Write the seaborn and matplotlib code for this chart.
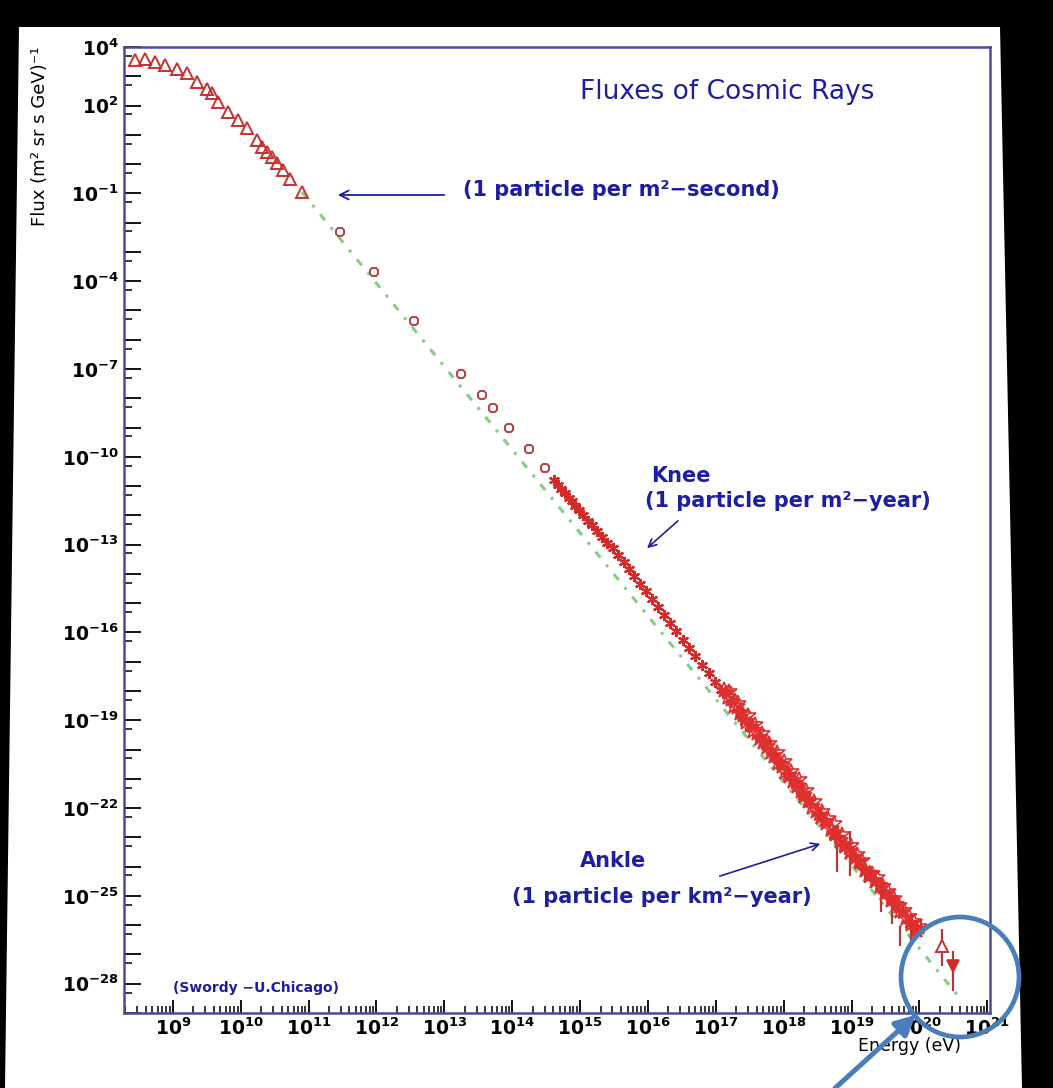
import numpy as np
import pandas as pd
import matplotlib
matplotlib.use("Agg")
import matplotlib.pyplot as plt
import seaborn as sns
from matplotlib.ticker import FixedLocator, FixedFormatter, NullFormatter
from matplotlib.patches import Polygon, Ellipse, FancyArrowPatch

# ---------------- data (log10 values) ----------------
tri_logE = [8.44, 8.59, 8.73, 8.88, 9.06, 9.21, 9.35, 9.50, 9.58, 9.66, 9.81,
            9.96, 10.09, 10.24, 10.31, 10.39, 10.46, 10.53, 10.62, 10.73, 10.90]
tri_logF = [3.56, 3.59, 3.49, 3.39, 3.25, 3.11, 2.81, 2.57, 2.43, 2.12, 1.78,
            1.51, 1.24, 0.83, 0.59, 0.42, 0.25, 0.04, -0.20, -0.51, -0.95]

diam_logE = [11.46, 11.96, 12.55, 13.25, 13.56, 13.71, 13.96, 14.25, 14.49]
diam_logF = [-2.31, -3.68, -5.35, -7.16, -7.88, -8.32, -9.00, -9.72, -10.37]

knee_logE = [14.62, 14.68, 14.72, 14.78, 14.83, 14.88, 14.93, 14.99, 15.05, 15.12,
             15.18, 15.25, 15.33, 15.40, 15.48, 15.56, 15.64, 15.72, 15.80, 15.89,
             15.97, 16.06, 16.15, 16.24, 16.33, 16.42, 16.52, 16.61, 16.70, 16.80,
             16.90, 16.99, 17.08]
knee_logF = [-10.80, -10.95, -11.10, -11.22, -11.40, -11.50, -11.68, -11.82, -11.98, -12.18,
             -12.33, -12.52, -12.75, -12.93, -13.12, -13.35, -13.58, -13.82, -14.08, -14.33,
             -14.60, -14.85, -15.13, -15.42, -15.68, -15.95, -16.26, -16.52, -16.80, -17.12,
             -17.40, -17.70, -17.98]

open_logE = [17.12, 17.18, 17.22, 17.27, 17.31, 17.36, 17.40, 17.45, 17.50, 17.55,
             17.60, 17.65, 17.70, 17.76, 17.81, 17.86, 17.92, 17.97, 18.02, 18.08,
             18.13, 18.19, 18.25, 18.30, 18.36, 18.42, 18.48, 18.55, 18.62, 18.69,
             18.76, 18.83, 18.90, 18.97, 19.05, 19.12, 19.20, 19.27, 19.35, 19.42,
             19.50, 19.58, 19.65, 19.72, 19.80, 19.88, 19.97]
open_logF = [-17.95, -18.20, -18.28, -18.50, -18.55, -18.75, -18.82, -19.05, -19.15, -19.35,
             -19.42, -19.62, -19.75, -19.90, -20.10, -20.22, -20.45, -20.55, -20.75, -20.90,
             -21.08, -21.25, -21.40, -21.60, -21.75, -21.95, -22.10, -22.30, -22.50, -22.72,
             -22.88, -23.12, -23.28, -23.50, -23.70, -23.85, -24.10, -24.30, -24.50, -24.65,
             -24.90, -25.15, -25.30, -25.50, -25.75, -25.95, -26.15]

open2_logE = [17.20, 17.33, 17.47, 17.58, 17.68, 17.79, 17.90, 18.00, 18.11, 18.22,
              18.33, 18.45, 18.57, 18.66, 18.74, 18.86, 18.99, 19.08, 19.16, 19.30,
              19.38, 19.46, 19.54, 19.62, 19.70, 19.78, 19.84, 19.92, 20.00]
open2_logF = [-18.05, -18.45, -18.85, -19.15, -19.48, -19.80, -20.12, -20.42, -20.78, -21.05,
              -21.42, -21.78, -22.12, -22.38, -22.55, -22.92, -23.30, -23.60, -23.80, -24.25,
              -24.40, -24.68, -24.85, -25.10, -25.35, -25.50, -25.72, -25.90, -26.05]

fill_logE = [17.15, 17.25, 17.34, 17.42, 17.52, 17.63, 17.72, 17.84, 17.95, 18.05,
             18.16, 18.27, 18.38, 18.50, 18.60, 18.72, 18.80, 18.88, 18.95, 19.02,
             19.10, 19.18, 19.25, 19.33, 19.40, 19.48, 19.56, 19.64, 19.75, 19.85, 19.93]
fill_logF = [-18.05, -18.35, -18.72, -18.95, -19.18, -19.58, -19.78, -20.20, -20.47, -20.85,
             -21.10, -21.50, -21.75, -22.20, -22.42, -22.85, -22.98, -23.30, -23.38, -23.65,
             -23.80, -24.10, -24.20, -24.48, -24.60, -24.90, -25.05, -25.32, -25.55, -25.90, -26.05]

eb_logE = [18.78, 18.98, 19.20, 19.43, 19.60, 19.72, 19.87, 20.02]
eb_logF = [-23.75, -23.55, -24.20, -25.20, -25.55, -26.37, -26.10, -26.10]
eb_err = [0.45, 0.77, 0.35, 0.34, 0.40, 0.34, 0.50, 0.30]

up_logE = [20.34]
up_logF = [-26.72]
up_lo, up_hi = [0.68], [0.58]
dn_logE = [20.50]
dn_logF = [-27.40]
dn_lo, dn_hi = [0.85], [0.51]

line_logE = [10.90, 20.61]
line_logF = [-0.95, -28.53]

x_tick_exp = list(range(9, 22))
x_tick_labels = [r"$10^{%d}$" % e for e in x_tick_exp]
y_label_exp = [4, 2, -1, -4, -7, -10, -13, -16, -19, -22, -25, -28]


def df(le, lf):
    return pd.DataFrame({"E": np.power(10.0, le), "F": np.power(10.0, lf)})


# ---------------- style ----------------
sns.set_theme(style="white")
plt.rcParams["font.family"] = ["DejaVu Sans"]
plt.rcParams["mathtext.fontset"] = "dejavusans"
plt.rcParams["mathtext.default"] = "bf"

W, H = 1053, 1088
fig = plt.figure(figsize=(W / 100, H / 100), dpi=100)
fig.patch.set_facecolor("black")


def fp(x, y):
    return (x / W, 1 - y / H)


fig.add_artist(Polygon([fp(19, 27), fp(1000, 27), fp(1022, 1088), fp(5, 1088)],
                       closed=True, transform=fig.transFigure, facecolor="white",
                       edgecolor="none", zorder=0))

ax = fig.add_axes([124 / W, 1 - 1013 / H, (990 - 124) / W, (1013 - 47) / H])
ax.set_facecolor("white")
ax.set_xscale("log")
ax.set_yscale("log")
ax.set_xlim(10 ** 8.28, 10 ** 21.04)
ax.set_ylim(1e-29, 1e4)

RED = "#d42a2a"
DRED = "#b03a3a"

# reference power law line
sns.lineplot(data=df(line_logE, line_logF), x="E", y="F", ax=ax, color="#86cc86",
             lw=2.2, linestyle=(0, (2.5, 3, 1, 3)), estimator=None, sort=False, zorder=2)

# low energy triangles
sns.lineplot(data=df(tri_logE, tri_logF), x="E", y="F", ax=ax, linestyle="none",
             marker="^", ms=9, mfc="none", mec="#c83030", mew=1.4,
             estimator=None, sort=False, zorder=3)
# diamonds
sns.lineplot(data=df(diam_logE, diam_logF), x="E", y="F", ax=ax, linestyle="none",
             marker="8", ms=6.5, mfc="none", mec="#b84040", mew=1.4,
             estimator=None, sort=False, zorder=3)
# knee asterisks
sns.lineplot(data=df(knee_logE, knee_logF), x="E", y="F", ax=ax, linestyle="none",
             marker=(6, 2, 0), ms=8, mec=RED, mew=1.6,
             estimator=None, sort=False, zorder=3)
# error bars high energy
ax.errorbar(np.power(10.0, eb_logE), np.power(10.0, eb_logF),
            yerr=[np.power(10.0, eb_logF) * (1 - 10 ** -np.array(eb_err)),
                  np.power(10.0, eb_logF) * (10 ** np.array(eb_err) - 1)],
            fmt="none", ecolor=DRED, elinewidth=1.6, zorder=3)
# dense high-energy points
sns.lineplot(data=df(fill_logE, fill_logF), x="E", y="F", ax=ax, linestyle="none",
             marker="*", ms=10, mfc=RED, mec=RED, mew=1.0,
             estimator=None, sort=False, zorder=4)
sns.lineplot(data=df(open_logE, open_logF), x="E", y="F", ax=ax, linestyle="none",
             marker="*", ms=12, mfc="none", mec="#e03030", mew=1.2,
             estimator=None, sort=False, zorder=4)
sns.lineplot(data=df(open2_logE, open2_logF), x="E", y="F", ax=ax, linestyle="none",
             marker="*", ms=12, mfc="none", mec="#e03030", mew=1.2,
             estimator=None, sort=False, zorder=4)

# highest energy points
upE, upF = np.power(10.0, up_logE), np.power(10.0, up_logF)
ax.errorbar(upE, upF, yerr=[upF * (1 - 10 ** -np.array(up_lo)), upF * (10 ** np.array(up_hi) - 1)],
            fmt="none", ecolor=DRED, elinewidth=1.6, zorder=3)
sns.lineplot(x=upE, y=upF, ax=ax, linestyle="none", marker="^", ms=9, mfc="white",
             mec="#c83030", mew=1.4, estimator=None, sort=False, zorder=4)
dnE, dnF = np.power(10.0, dn_logE), np.power(10.0, dn_logF)
ax.errorbar(dnE, dnF, yerr=[dnF * (1 - 10 ** -np.array(dn_lo)), dnF * (10 ** np.array(dn_hi) - 1)],
            fmt="none", ecolor=DRED, elinewidth=1.6, zorder=3)
sns.lineplot(x=dnE, y=dnF, ax=ax, linestyle="none", marker="v", ms=8, mfc=RED,
             mec=RED, mew=1.2, estimator=None, sort=False, zorder=4)

ax.set_xlabel("")
ax.set_ylabel("")

# ---------------- axes / ticks ----------------
for s in ax.spines.values():
    s.set_color("#4a4a9c")
    s.set_linewidth(1.8)
    s.set_visible(True)

ax.xaxis.set_major_locator(FixedLocator([10.0 ** e for e in x_tick_exp]))
ax.xaxis.set_major_formatter(FixedFormatter(x_tick_labels))
ax.xaxis.set_minor_locator(FixedLocator([m * 10.0 ** e for e in range(8, 21) for m in range(2, 10)]))
ax.xaxis.set_minor_formatter(NullFormatter())

y_major = list(range(4, -30, -1))
ax.yaxis.set_major_locator(FixedLocator([10.0 ** e for e in y_major]))
ax.yaxis.set_major_formatter(FixedFormatter(
    [(r"$10^{%d}$" % e if e in y_label_exp else "") for e in y_major]))
ax.yaxis.set_minor_locator(FixedLocator([5 * 10.0 ** e for e in range(-29, 4)]))
ax.yaxis.set_minor_formatter(NullFormatter())

ax.tick_params(axis="x", which="major", direction="in", length=9.5, width=1.3,
               color="black", labelsize=13.5, pad=3, labelcolor="black",
               bottom=True, top=False)
ax.tick_params(axis="x", which="minor", direction="in", length=5, width=1.1,
               color="black", bottom=True, top=False)
ax.tick_params(axis="y", which="major", direction="in", length=12, width=1.3,
               color="black", labelsize=13.5, pad=4, labelcolor="black",
               left=True, right=False)
ax.tick_params(axis="y", which="minor", direction="in", length=6, width=1.1,
               color="black", left=True, right=False)

# ---------------- text & annotations ----------------
BLUE = "#1e1ea0"


def ftext(x, y, s, **kw):
    fig.text(x / W, 1 - y / H, s, **kw)


ftext(580, 92, "Fluxes of Cosmic Rays", color=BLUE, fontsize=19, va="center", ha="left")
ftext(463, 190, "(1 particle per m²−second)", color=BLUE, fontsize=15,
      fontweight="bold", va="center", ha="left")
ftext(651, 476, "Knee", color=BLUE, fontsize=15, fontweight="bold", va="center", ha="left")
ftext(645, 501, "(1 particle per m²−year)", color=BLUE, fontsize=15,
      fontweight="bold", va="center", ha="left")
ftext(580, 861, "Ankle", color=BLUE, fontsize=15, fontweight="bold", va="center", ha="left")
ftext(512, 897, "(1 particle per km²−year)", color=BLUE, fontsize=15,
      fontweight="bold", va="center", ha="left")
ftext(173, 988, "(Swordy −U.Chicago)", color=BLUE, fontsize=10,
      fontweight="bold", va="center", ha="left")

ftext(40, 46, "Flux (m² sr s GeV)⁻¹", color="black", fontsize=13, rotation=90,
      ha="center", va="top")
ftext(858, 1046, "Energy (eV)", color="black", fontsize=12.5, ha="left", va="center")


def farrow(x0, y0, x1, y1, color, lw, ms, style="->"):
    fig.add_artist(FancyArrowPatch(fp(x0, y0), fp(x1, y1), transform=fig.transFigure,
                                   arrowstyle=style, mutation_scale=ms, color=color,
                                   lw=lw, zorder=10, clip_on=False))


farrow(447, 195, 335, 195, BLUE, 1.3, 16)
farrow(680, 519, 645, 550, BLUE, 1.2, 14)
farrow(717, 877, 823, 843, BLUE, 1.2, 14)

# highlight circle and big arrow
fig.add_artist(Ellipse(fp(960, 977), 118 / W, 120 / H, transform=fig.transFigure,
                       facecolor="none", edgecolor="#4a7ebb", lw=3.4, zorder=11))
farrow(833, 1090, 918, 1013, "#4a7ebb", 3.6, 30, style="-|>")

fig.savefig("out.png", dpi=100, facecolor=fig.get_facecolor())
